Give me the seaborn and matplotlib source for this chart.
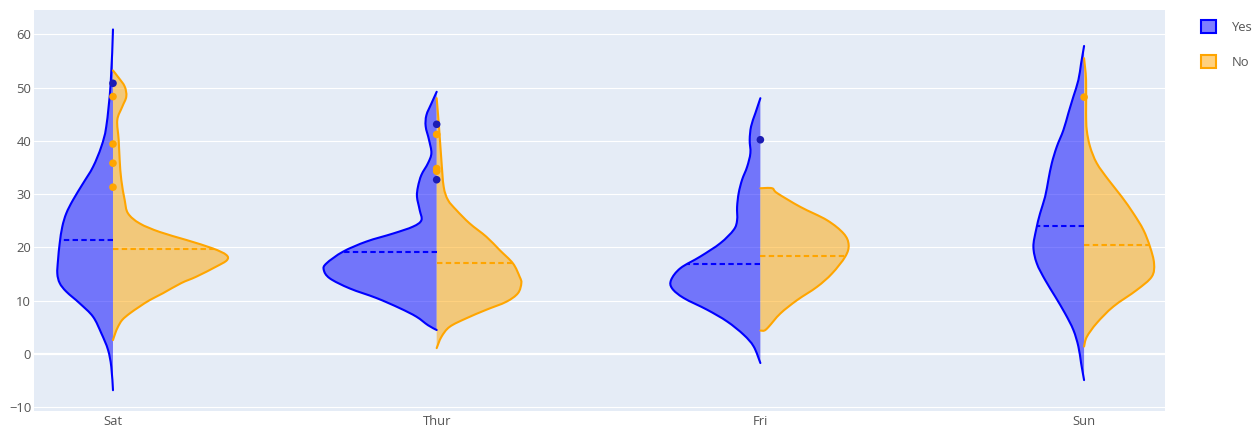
import numpy as np
import pandas as pd
import matplotlib
matplotlib.use("Agg")
import matplotlib.pyplot as plt
from matplotlib.patches import Patch, PathPatch
from matplotlib.path import Path
import seaborn as sns

# Categories
days = ["Sat", "Thur", "Fri", "Sun"]
smokers = ["Yes", "No"]

# Density outlines per half-violin: total bill values (top to bottom)
# and the relative half-width of the kernel density at each value.
sat_yes_val = [60.9, 50.8, 42.7, 38.9, 35.1, 32.0, 28.9, 26.4, 23.9, 20.8, 17.6, 15.1,
               13.3, 11.7, 9.5, 7.0, 3.9, 0.8, -2.4, -6.8]
sat_yes_dens = [0, 2.3, 6.7, 11.7, 20, 30, 40, 46.7, 50.7, 53.3, 55, 55.7,
                53.3, 46.7, 33.3, 20, 11.7, 5, 1.7, 0]

sat_no_val = [53.2, 52.0, 50.2, 48.3, 46.4, 43.9, 40.2, 36.4, 32.7, 28.9, 26.4, 24.5,
              22.9, 21.4, 19.8, 18.6, 17.6, 16.4, 14.5, 13.3, 11.4, 10.1, 8.9, 7.6,
              6.4, 5.1, 3.9, 2.6]
sat_no_dens = [0, 5, 11.7, 13.3, 9.3, 4.3, 5.7, 6.7, 8.3, 11.7, 15, 26.7,
               46.7, 73.3, 100, 113.3, 114, 103.3, 83.3, 68.3, 50, 36.7, 26.7, 16.7,
               9.3, 5, 2.3, 0]

thur_yes_val = [49.2, 47.0, 44.8, 42.7, 40.2, 37.7, 35.8, 33.6, 31.4, 29.5, 27.0, 25.1,
                23.9, 22.6, 21.1, 19.2, 17.0, 15.8, 14.2, 12.3, 10.5, 8.6, 7.0, 5.4, 4.5]
thur_yes_dens = [0, 5.3, 10.3, 11, 7.7, 5.3, 8.7, 15.3, 18.7, 19.7, 17, 15.3,
                 23.7, 43.7, 70.3, 93.7, 110.3, 113, 107, 87, 60.3, 37, 20.3, 8.7, 0]

thur_no_val = [48.0, 42.7, 36.4, 31.4, 28.9, 27.0, 24.5, 22.0, 19.5, 17.0, 14.5, 13.3,
               11.4, 9.8, 8.3, 6.7, 5.1, 3.2, 1.1]
thur_no_dens = [0, 2.3, 4.7, 7, 11.3, 19.7, 33, 49.7, 63, 76.3, 83, 84.7,
                81.3, 69.7, 49.7, 29.7, 13, 4.7, 0]

fri_yes_val = [48.0, 45.2, 42.7, 40.2, 37.7, 35.1, 32.7, 30.2, 27.6, 25.1, 23.3, 20.8,
               18.3, 16.1, 13.9, 12.3, 10.5, 8.3, 6.1, 3.6, 1.4, -1.7]
fri_yes_dens = [0, 5, 9.3, 10.7, 10, 13.3, 18.3, 21.7, 23.3, 23.3, 26.7, 40,
                60, 80, 89.3, 88.3, 76.7, 53.3, 33.3, 16.7, 6.7, 0]

fri_no_val = [31.1, 31.1, 30.2, 27.6, 25.1, 22.6, 20.5, 18.3, 15.1, 12.6, 10.1, 7.6,
              5.1, 4.4, 4.4]
fri_no_dens = [0, 11.7, 16.7, 40, 66.7, 83.3, 88.3, 85, 71.7, 56.7, 36.7, 20,
               8.3, 4, 0]

sun_yes_val = [57.8, 54.5, 51.4, 48.3, 45.2, 42.0, 38.9, 35.8, 32.7, 29.5, 26.4, 23.3,
               20.1, 17.0, 13.9, 10.8, 7.6, 4.5, 1.4, -1.7, -4.9]
sun_yes_dens = [0, 3, 5.7, 10.7, 15.7, 20.7, 27.3, 32.3, 35.7, 39, 44, 48,
                50.7, 47.3, 39, 29, 19, 10.7, 5.7, 3, 0]

sun_no_val = [55.5, 51.4, 45.2, 42.0, 38.9, 35.8, 32.7, 29.5, 26.4, 23.3, 20.1, 17.0,
              14.5, 12.0, 8.9, 5.8, 3.2, 1.4]
sun_no_dens = [0, 2, 2, 2.7, 6, 12.7, 24.3, 37.7, 49.3, 59.3, 66, 70,
               67.7, 52.7, 29.3, 12.7, 2.7, 0]

# Mean total bill per day
mean_yes = [21.3, 19.2, 16.8, 24.1]
mean_no = [19.7, 17.1, 18.4, 20.5]

# Outlying bills shown as points
out_yes = {"Sat": [50.8], "Thur": [43.1, 32.7], "Fri": [40.2], "Sun": []}
out_no = {"Sat": [48.3, 39.4, 35.8, 31.3], "Thur": [41.2, 34.8, 34.3], "Fri": [], "Sun": [48.2]}

profiles = {
    ("Sat", "Yes"): (sat_yes_val, sat_yes_dens),
    ("Sat", "No"): (sat_no_val, sat_no_dens),
    ("Thur", "Yes"): (thur_yes_val, thur_yes_dens),
    ("Thur", "No"): (thur_no_val, thur_no_dens),
    ("Fri", "Yes"): (fri_yes_val, fri_yes_dens),
    ("Fri", "No"): (fri_no_val, fri_no_dens),
    ("Sun", "Yes"): (sun_yes_val, sun_yes_dens),
    ("Sun", "No"): (sun_no_val, sun_no_dens),
}
means = {"Yes": mean_yes, "No": mean_no}
line_colors = {"Yes": "#0000FF", "No": "#FFA500"}
point_colors = {"Yes": "#1c1cb4", "No": "#FFA500"}


def spline_path(xs, ys, close_to=None):
    """Smooth outline through the given vertices as cubic Bezier segments."""
    p = np.column_stack([xs, ys]).astype(float)
    ext = np.vstack([p[0], p, p[-1]])
    verts = [p[0]]
    codes = [Path.MOVETO]
    for i in range(len(p) - 1):
        p0, p1, p2, p3 = ext[i], ext[i + 1], ext[i + 2], ext[i + 3]
        verts += [p1 + (p2 - p0) / 6.0, p2 - (p3 - p1) / 6.0, p2]
        codes += [Path.CURVE4] * 3
    if close_to is not None:
        verts += [close_to, p[0]]
        codes += [Path.LINETO, Path.CLOSEPOLY]
    return Path(verts, codes)


sns.set_theme(style="darkgrid", rc={
    "axes.facecolor": "#E5ECF6",
    "figure.facecolor": "white",
    "grid.color": "white",
    "grid.linewidth": 0.8,
})
plt.rcParams["font.family"] = ["Open Sans", "DejaVu Sans"]

fig = plt.figure(figsize=(12.57, 4.28), dpi=100)
ax = fig.add_axes([34 / 1257, 17 / 428, 1131 / 1257, 401 / 428])

dens_max = max(max(d) for _, d in profiles.values())
max_half = 0.352

for (day, smk), (vals, dens) in profiles.items():
    pos = days.index(day)
    sign = -1 if smk == "Yes" else 1
    v = np.asarray(vals, dtype=float)
    half = np.asarray(dens, dtype=float) / dens_max * max_half
    edge = pos + sign * half
    col = line_colors[smk]
    ax.add_patch(PathPatch(spline_path(edge, v, close_to=(pos, v[-1])),
                           facecolor=col, alpha=0.5, lw=0, zorder=2))
    ax.add_patch(PathPatch(spline_path(edge, v), facecolor="none", edgecolor=col,
                           lw=1.5, zorder=3, capstyle="round", joinstyle="round"))
    m = means[smk][pos]
    w = np.interp(m, v[::-1], half[::-1])
    ax.plot([pos, pos + sign * w], [m, m], color=col, lw=1.5,
            dashes=(2.6, 1.6), zorder=3)

rows = []
for smk, table in (("Yes", out_yes), ("No", out_no)):
    for day, bills in table.items():
        for b in bills:
            rows.append({"pos": days.index(day), "total_bill": b, "smoker": smk})
pts = pd.DataFrame(rows)
sns.scatterplot(data=pts, x="pos", y="total_bill", hue="smoker", palette=point_colors,
                s=30, linewidth=0, legend=False, ax=ax, zorder=4)

ax.axhline(0, color="white", lw=1.6, zorder=1)
ax.set_xlim(-0.244, 3.25)
ax.set_ylim(-10.7, 64.55)
ax.set_xticks(range(len(days)))
ax.set_xticklabels(days)
ax.set_yticks([-10, 0, 10, 20, 30, 40, 50, 60])
ax.xaxis.grid(False)
ax.set_axisbelow(True)
ax.set_xlabel("")
ax.set_ylabel("")
for s in ax.spines.values():
    s.set_visible(False)
ax.tick_params(axis="both", length=0, labelsize=9.4, labelcolor="#555555")
ax.tick_params(axis="y", pad=2)
ax.tick_params(axis="x", pad=3)

handles = [Patch(facecolor=(0, 0, 1, 0.5), edgecolor="#0000FF", lw=1.5, label="Yes"),
           Patch(facecolor=(1, 0.647, 0, 0.5), edgecolor="#FFA500", lw=1.5, label="No")]
fig.legend(handles=handles, loc="upper left", bbox_to_anchor=(1201 / 1257, 1 - 20 / 428),
           frameon=False, borderpad=0, borderaxespad=0, handlelength=1.15,
           handleheight=1.15, handletextpad=1.2, labelspacing=1.6,
           prop={"size": 9.4}, labelcolor="#555555")

fig.savefig("out.png", dpi=100)
